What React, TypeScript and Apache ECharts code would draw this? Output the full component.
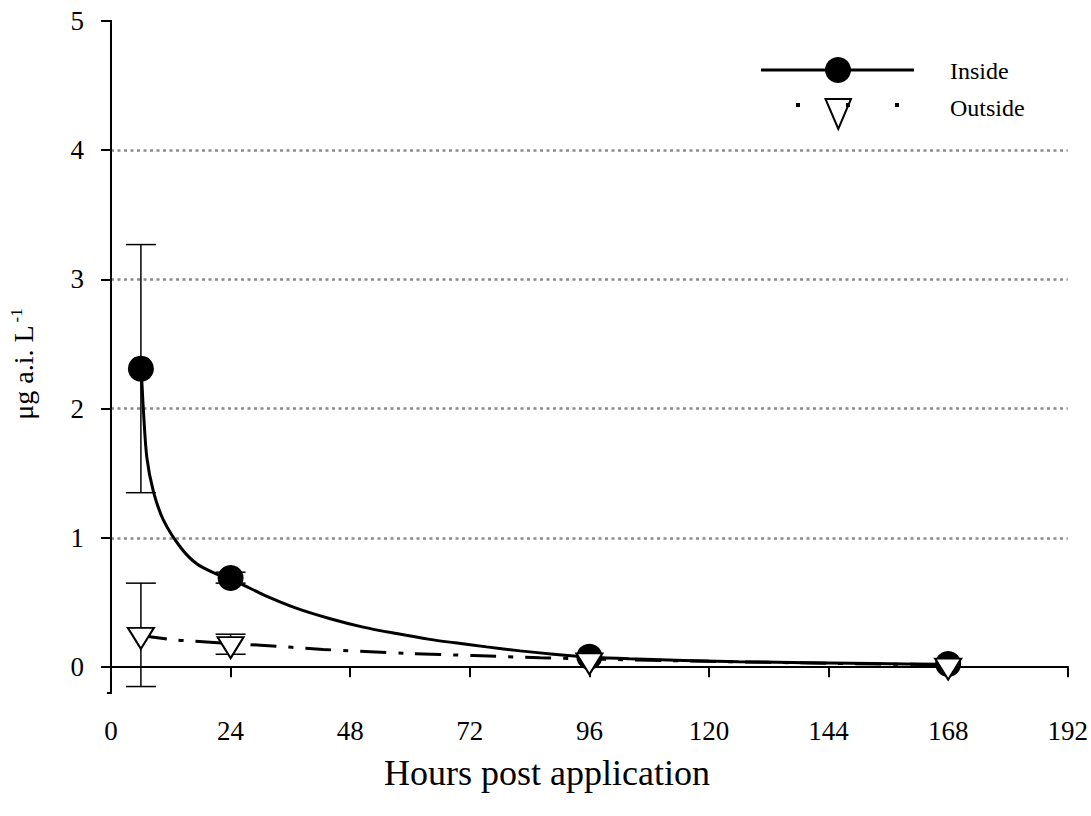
import React, { useEffect, useRef } from "react";
import * as echarts from "echarts";

const FONT = '"Liberation Serif", "Times New Roman", serif';

// Measured points (hours, µg a.i. L-1)
const insideHours = [6, 24, 96, 168];
const insideMeans = [2.31, 0.69, 0.08, 0.025];
const insideLow = [1.35, 0.65, 0.075, 0.02];
const insideHigh = [3.27, 0.735, 0.085, 0.03];

const outsideHours = [6, 24, 96, 168];
const outsideMeans = [0.25, 0.178, 0.052, 0.012];
const outsideLow = [-0.15, 0.1, 0.05, 0.01];
const outsideHigh = [0.65, 0.255, 0.055, 0.015];

// Fitted curves
const insideFitX = [6, 6.2, 6.5, 7.2, 8.5, 10.5, 13.9, 17.2, 21.2, 24, 26.6, 30.6, 37.3, 44, 50.6, 57.3, 64, 68.7, 75.4, 82.1, 88.8, 96, 104, 126, 153, 168];
const insideFitY = [2.3, 2.2, 1.99, 1.62, 1.36, 1.14, 0.93, 0.8, 0.72, 0.68, 0.635, 0.56, 0.455, 0.375, 0.31, 0.26, 0.215, 0.19, 0.157, 0.126, 0.1, 0.078, 0.065, 0.042, 0.028, 0.022];

const outsideFitX = [6, 7.8, 13.2, 15.9, 24, 30, 42.6, 59.4, 72.7, 86.1, 92.8, 96, 120, 144, 168];
const outsideFitY = [0.245, 0.235, 0.21, 0.204, 0.182, 0.17, 0.137, 0.106, 0.09, 0.072, 0.067, 0.063, 0.045, 0.03, 0.018];

const yTicks = [0, 1, 2, 3, 4, 5];

const legendNames = ["Inside", "Outside"];
const xTitle = "Hours post application";

export default function App() {
  const ref = useRef<HTMLDivElement>(null);

  useEffect(() => {
    if (!ref.current) return;
    const chart = echarts.init(ref.current, null, { renderer: "svg" });

    const errData = [
      ...insideHours.slice(0, 2).map((h, i) => [h, insideLow[i], insideHigh[i]]),
      ...outsideHours.slice(0, 2).map((h, i) => [h, outsideLow[i], outsideHigh[i]]),
    ];

    const axisLineStyle = { color: "#000", width: 2 };

    const option: any = {
      animation: false,
      backgroundColor: "#fff",
      grid: { left: 111, right: 23, top: 21, bottom: 123, containLabel: false },
      xAxis: [
        {
          type: "value",
          min: 0,
          max: 192,
          interval: 24,
          position: "bottom",
          axisLine: { show: true, lineStyle: axisLineStyle },
          axisTick: { show: true, inside: false, length: 10, lineStyle: axisLineStyle },
          axisLabel: { show: true, margin: 24, fontFamily: FONT, fontSize: 27, color: "#000" },
          splitLine: { show: false },
        },
        {
          type: "value",
          min: 0,
          max: 192,
          position: "top",
          axisLine: { show: true, lineStyle: axisLineStyle },
          axisTick: { show: false },
          axisLabel: { show: false },
          splitLine: { show: false },
        },
      ],
      yAxis: [
        {
          type: "value",
          min: -0.2,
          max: 5,
          position: "left",
          offset: 3,
          axisLine: { show: true, lineStyle: axisLineStyle },
          axisTick: { show: true, length: 10, lineStyle: axisLineStyle, customValues: yTicks },
          axisLabel: {
            show: true,
            margin: 24,
            fontFamily: FONT,
            fontSize: 27,
            color: "#000",
            customValues: yTicks,
            formatter: (v: number) => (Math.abs(v - Math.round(v)) < 1e-6 ? String(Math.round(v)) : ""),
          },
          splitLine: {
            show: true,
            showMinLine: false,
            showMaxLine: false,
            lineStyle: { color: "#8c8c8c", width: 2.5, type: [3, 3.5] },
          },
        },
        {
          type: "value",
          min: -0.2,
          max: 5,
          position: "right",
          axisLine: { show: true, lineStyle: axisLineStyle },
          axisTick: { show: false },
          axisLabel: { show: false },
          splitLine: { show: false },
        },
      ],
      series: [
        {
          name: "errorbars",
          type: "custom",
          clip: false,
          z: 2,
          data: errData,
          encode: { x: 0, y: [1, 2] },
          renderItem: (params: any, api: any) => {
            const x = api.value(0);
            const lo = api.coord([x, api.value(1)]);
            const hi = api.coord([x, api.value(2)]);
            const hw = 15;
            const style = { stroke: "#000", lineWidth: 1.5 };
            return {
              type: "group",
              children: [
                { type: "line", shape: { x1: lo[0], y1: lo[1], x2: hi[0], y2: hi[1] }, style },
                { type: "line", shape: { x1: lo[0] - hw, y1: lo[1], x2: lo[0] + hw, y2: lo[1] }, style },
                { type: "line", shape: { x1: hi[0] - hw, y1: hi[1], x2: hi[0] + hw, y2: hi[1] }, style },
              ],
            };
          },
        },
        {
          name: "Inside fit",
          type: "line",
          z: 3,
          showSymbol: false,
          symbol: "none",
          smooth: 0.3,
          clip: false,
          data: insideFitX.map((x, i) => [x, insideFitY[i]]),
          lineStyle: { color: "#000", width: 3 },
        },
        {
          name: "Outside fit",
          type: "line",
          z: 3,
          showSymbol: false,
          symbol: "none",
          smooth: 0.3,
          clip: false,
          data: outsideFitX.map((x, i) => [x, outsideFitY[i]]),
          lineStyle: { color: "#000", width: 3, type: [26, 12, 5, 12] },
        },
        {
          name: legendNames[0],
          type: "scatter",
          z: 4,
          symbol: "circle",
          symbolSize: 26,
          clip: false,
          data: insideHours.map((h, i) => [h, insideMeans[i]]),
          itemStyle: { color: "#000", opacity: 1 },
        },
        {
          name: legendNames[1],
          type: "scatter",
          z: 5,
          symbol: "triangle",
          symbolSize: [26, 21],
          symbolRotate: 180,
          symbolOffset: [0, 3.5],
          clip: false,
          data: outsideHours.map((h, i) => [h, outsideMeans[i]]),
          itemStyle: { color: "#fff", borderColor: "#000", borderWidth: 2, opacity: 1 },
        },
      ],
      graphic: [
        // close the frame corners between the offset y axis and the x axes
        { type: "line", shape: { x1: 107, y1: 21, x2: 112, y2: 21 }, style: { stroke: "#000", lineWidth: 2 } },
        { type: "line", shape: { x1: 107, y1: 693, x2: 112, y2: 693 }, style: { stroke: "#000", lineWidth: 2 } },
        {
          type: "text",
          x: 23,
          y: 364,
          rotation: Math.PI / 2,
          style: {
            text: "μg a.i. L{sup|-1}",
            fontFamily: FONT,
            fontSize: 28,
            fill: "#000",
            align: "center",
            verticalAlign: "middle",
            rich: {
              sup: { fontFamily: FONT, fontSize: 17, verticalAlign: "top", padding: [0, 0, 14, 3] },
            },
          },
        },
        {
          type: "text",
          x: 547,
          y: 773,
          style: {
            text: xTitle,
            fontFamily: FONT,
            fontSize: 36,
            fill: "#000",
            align: "center",
            verticalAlign: "middle",
          },
        },
        // Legend
        {
          type: "line",
          shape: { x1: 761, y1: 70, x2: 914, y2: 70 },
          style: { stroke: "#000", lineWidth: 3 },
        },
        { type: "circle", shape: { cx: 838, cy: 70, r: 13 }, style: { fill: "#000" } },
        {
          type: "text",
          x: 950,
          y: 71,
          style: { text: legendNames[0], fontFamily: FONT, fontSize: 24, fill: "#000", verticalAlign: "middle" },
        },
        { type: "rect", shape: { x: 796, y: 103, width: 4, height: 4 }, style: { fill: "#000" } },
        { type: "rect", shape: { x: 846, y: 103, width: 4, height: 4 }, style: { fill: "#000" } },
        { type: "rect", shape: { x: 895, y: 103, width: 4, height: 4 }, style: { fill: "#000" } },
        {
          type: "polygon",
          shape: { points: [[825.5, 99], [851, 99], [838.3, 129]] },
          style: { fill: "none", stroke: "#000", lineWidth: 2 },
        },
        {
          type: "text",
          x: 950,
          y: 108,
          style: { text: legendNames[1], fontFamily: FONT, fontSize: 24, fill: "#000", verticalAlign: "middle" },
        },
      ],
    };

    chart.setOption(option);
    return () => chart.dispose();
  }, []);

  return <div ref={ref} style={{ width: 1091, height: 816, position: "absolute", left: 0, top: 0 }} />;
}
